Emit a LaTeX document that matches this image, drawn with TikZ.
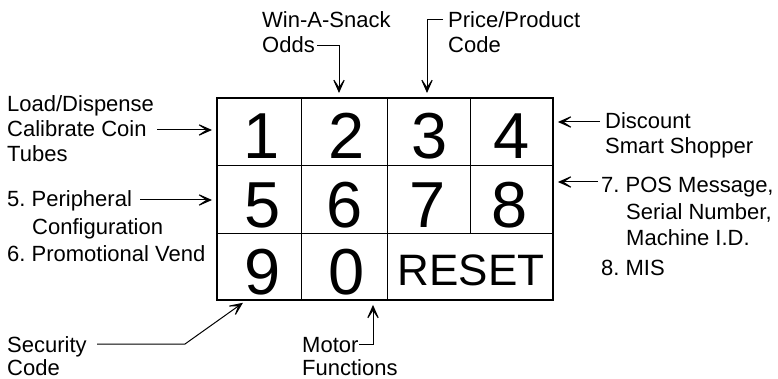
\documentclass[tikz,border=0pt]{standalone}
\usepackage{fontspec}
\setmainfont{Liberation Sans}
\usetikzlibrary{arrows.meta}
\frenchspacing

\tikzset{
  cell/.style={draw, line width=0.9pt, inner sep=0pt, anchor=north west},
  outer/.style={draw, line width=2pt},
  keylabel/.style={inner sep=0pt, anchor=base, font=\fontsize{65}{70}\selectfont},
  resetlabel/.style={inner sep=0pt, anchor=base, font=\fontsize{44}{50}\selectfont},
  txt/.style={inner sep=0pt, anchor=base west, font=\fontsize{22}{25}\selectfont},
  pointer/.style={line width=1pt, shorten >=5pt,
    -{Stealth[length=18pt, width=16pt, inset=12pt]}},
}

\begin{document}
\begin{tikzpicture}[x=1pt, y=-1pt]
\useasboundingbox (0,0) rectangle (778,379);

% keypad cells
\node[cell, minimum width=84pt, minimum height=67pt] (k1) at (217,98) {};
\node[cell, minimum width=86pt, minimum height=67pt] (k2) at (301,98) {};
\node[cell, minimum width=83pt, minimum height=67pt] (k3) at (387,98) {};
\node[cell, minimum width=82pt, minimum height=67pt] (k4) at (470,98) {};
\node[cell, minimum width=84pt, minimum height=68pt] (k5) at (217,165) {};
\node[cell, minimum width=86pt, minimum height=68pt] (k6) at (301,165) {};
\node[cell, minimum width=83pt, minimum height=68pt] (k7) at (387,165) {};
\node[cell, minimum width=82pt, minimum height=68pt] (k8) at (470,165) {};
\node[cell, minimum width=84pt, minimum height=66pt] (k9) at (217,233) {};
\node[cell, minimum width=86pt, minimum height=66pt] (k0) at (301,233) {};
\node[cell, minimum width=165pt, minimum height=66pt] (kr) at (387,233) {};
\draw[outer] (k1.north west) rectangle (kr.south east);

% key legends
\node[keylabel] (d1) at (262,159) {1};
\node[keylabel] (d2) at (347,159) {2};
\node[keylabel] (d3) at (430,159) {3};
\node[keylabel] (d4) at (512,159) {4};
\node[keylabel] (d5) at (263,227) {5};
\node[keylabel] (d6) at (345,227) {6};
\node[keylabel] (d7) at (428,227) {7};
\node[keylabel] (d8) at (510,227) {8};
\node[keylabel] (d9) at (263,294) {9};
\node[keylabel] (d0) at (347,294) {0};
\node[resetlabel] (dr) at (471,285) {RESET};

% left side texts
\node[txt] (t1a) at (7,112) {Load/Dispense};
\node[txt] (t1b) at (7,137) {Calibrate Coin};
\node[txt] (t1c) at (7,162) {Tubes};
\node[txt] (t5a) at (7,207) {5. Peripheral};
\node[txt] (t5b) at (32,234) {Configuration};
\node[txt] (t6)  at (7,261) {6. Promotional Vend};

% top texts
\node[txt] (t2a) at (262,28) {Win-A-Snack};
\node[txt] (t2b) at (262,53) {Odds};
\node[txt] (t3a) at (448,28) {Price/Product};
\node[txt] (t3b) at (448,53) {Code};

% right side texts
\node[txt] (t4a) at (605,129) {Discount};
\node[txt] (t4b) at (605,154) {Smart Shopper};
\node[txt] (t7a) at (601,193) {7. POS Message,};
\node[txt] (t7b) at (626,219) {Serial Number,};
\node[txt] (t7c) at (626,245) {Machine I.D.};
\node[txt] (t8)  at (601,275) {8. MIS};

% bottom texts
\node[txt] (t9a) at (7,352) {Security};
\node[txt] (t9b) at (7,375) {Code};
\node[txt] (t0a) at (302,352) {Motor};
\node[txt] (t0b) at (302,375) {Functions};

% connector start points and bends
\coordinate (s1) at (157,130);
\coordinate (s5) at (140,200);
\coordinate (s2) at (317,46);
\coordinate (b2) at (339,46);
\coordinate (s3) at (443,20);
\coordinate (b3) at (427,20);
\coordinate (s4) at (600,122);
\coordinate (s7) at (598,182);
\coordinate (s9) at (97,344);
\coordinate (b9) at (185,344);
\coordinate (s0) at (359,344);
\coordinate (b0) at (373,344);

% connectors
\draw[pointer] (s1) -- (s1 -| k1.west);
\draw[pointer] (s5) -- (s5 -| k5.west);
\draw[pointer] (s2) -- (b2) -- (b2 |- k2.north);
\draw[pointer] (s3) -- (b3) -- (b3 |- k3.north);
\draw[pointer] (s4) -- (s4 -| k4.east);
\draw[pointer] (s7) -- (s7 -| k8.east);
\draw[pointer] (s9) -- (b9) -- ([xshift=30pt]k9.south west);
\draw[pointer] (s0) -- (b0) -- (b0 |- k0.south);
\end{tikzpicture}
\end{document}
